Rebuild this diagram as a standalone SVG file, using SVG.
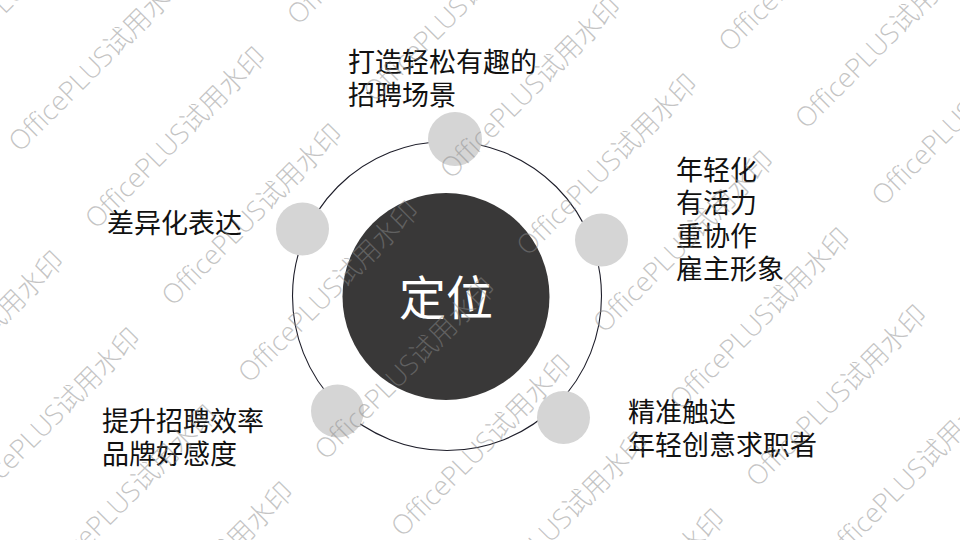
<svg xmlns="http://www.w3.org/2000/svg" width="960" height="540" viewBox="0 0 960 540">
  <defs>
    <style>
      .lbl { font-family: "Noto Sans CJK SC", "Noto Sans", sans-serif; font-size: 27px; fill: #111111; }
      .center { font-family: "Noto Sans CJK SC", "Noto Sans", sans-serif; font-size: 47px; fill: #ffffff; }
      .dot { fill: #d5d5d5; }
      .ring { fill: none; stroke: #1e1e2a; stroke-width: 1.1; }
      .wm { font-family: "Open Sans", "Noto Sans CJK SC", sans-serif; font-weight: 300; font-size: 27px; fill: #8a8a8a; fill-opacity: 0.5; }
    </style>
  </defs>
  <rect x="0" y="0" width="960" height="540" fill="#ffffff"/>

  <g id="connectors">
    <circle class="ring" cx="447" cy="296" r="154.5"/>
  </g>

  <g id="node-center">
    <circle cx="446" cy="296.5" r="103.5" fill="#393838"/>
    <text class="center" x="446" y="315" text-anchor="middle">定位</text>
  </g>

  <g id="node-top">
    <circle class="dot" cx="455" cy="139" r="27"/>
    <text class="lbl" x="348" y="72">打造轻松有趣的</text>
    <text class="lbl" x="348" y="105">招聘场景</text>
  </g>

  <g id="node-right">
    <circle class="dot" cx="601.5" cy="240" r="26.5"/>
    <text class="lbl" x="676" y="180">年轻化</text>
    <text class="lbl" x="676" y="213">有活力</text>
    <text class="lbl" x="676" y="246">重协作</text>
    <text class="lbl" x="676" y="279">雇主形象</text>
  </g>

  <g id="node-bottom-right">
    <circle class="dot" cx="563.5" cy="417.5" r="26.5"/>
    <text class="lbl" x="628" y="422">精准触达</text>
    <text class="lbl" x="628" y="455">年轻创意求职者</text>
  </g>

  <g id="node-bottom-left">
    <circle class="dot" cx="337.5" cy="411" r="26.5"/>
    <text class="lbl" x="102" y="431">提升招聘效率</text>
    <text class="lbl" x="102" y="464">品牌好感度</text>
  </g>

  <g id="node-left">
    <circle class="dot" cx="302.5" cy="229" r="26.5"/>
    <text class="lbl" x="107" y="233">差异化表达</text>
  </g>

  <g id="watermark">
    <text class="wm" transform="translate(-105.5,434) rotate(-45)">OfficePLUS试用水印</text>
    <text class="wm" transform="translate(-29,511) rotate(-45)">OfficePLUS试用水印</text>
    <text class="wm" transform="translate(47.5,588) rotate(-45)">OfficePLUS试用水印</text>
    <text class="wm" transform="translate(124,665) rotate(-45)">OfficePLUS试用水印</text>
    <text class="wm" transform="translate(-56.5,76) rotate(-45)">OfficePLUS试用水印</text>
    <text class="wm" transform="translate(20,153) rotate(-45)">OfficePLUS试用水印</text>
    <text class="wm" transform="translate(96.5,230) rotate(-45)">OfficePLUS试用水印</text>
    <text class="wm" transform="translate(173,307) rotate(-45)">OfficePLUS试用水印</text>
    <text class="wm" transform="translate(249.5,384) rotate(-45)">OfficePLUS试用水印</text>
    <text class="wm" transform="translate(326,461) rotate(-45)">OfficePLUS试用水印</text>
    <text class="wm" transform="translate(402.5,538) rotate(-45)">OfficePLUS试用水印</text>
    <text class="wm" transform="translate(479,615) rotate(-45)">OfficePLUS试用水印</text>
    <text class="wm" transform="translate(555.5,692) rotate(-45)">OfficePLUS试用水印</text>
    <text class="wm" transform="translate(298.5,26) rotate(-45)">OfficePLUS试用水印</text>
    <text class="wm" transform="translate(375,103) rotate(-45)">OfficePLUS试用水印</text>
    <text class="wm" transform="translate(451.5,180) rotate(-45)">OfficePLUS试用水印</text>
    <text class="wm" transform="translate(528,257) rotate(-45)">OfficePLUS试用水印</text>
    <text class="wm" transform="translate(604.5,334) rotate(-45)">OfficePLUS试用水印</text>
    <text class="wm" transform="translate(681,411) rotate(-45)">OfficePLUS试用水印</text>
    <text class="wm" transform="translate(757.5,488) rotate(-45)">OfficePLUS试用水印</text>
    <text class="wm" transform="translate(834,565) rotate(-45)">OfficePLUS试用水印</text>
    <text class="wm" transform="translate(730,53) rotate(-45)">OfficePLUS试用水印</text>
    <text class="wm" transform="translate(806.5,130) rotate(-45)">OfficePLUS试用水印</text>
    <text class="wm" transform="translate(883,207) rotate(-45)">OfficePLUS试用水印</text>
  </g>
</svg>
